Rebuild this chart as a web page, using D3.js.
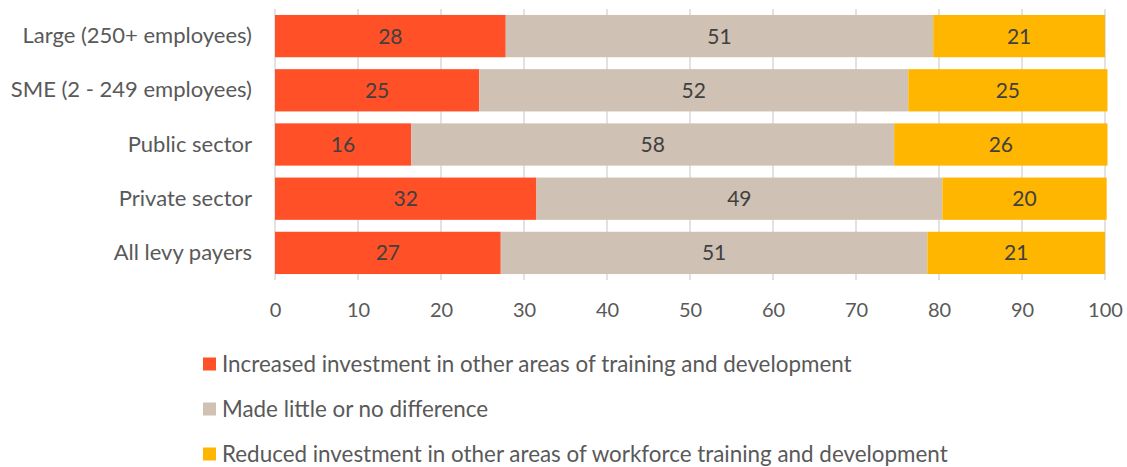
<!DOCTYPE html>
<html>
<head>
<meta charset="utf-8">
<script src="https://cdn.jsdelivr.net/npm/d3@7"></script>
<style>
  body { margin: 0; background: #fff; }
  text { font-family: Lato, "Noto Sans", sans-serif; }
</style>
</head>
<body>
<script>
// categories, top to bottom
var categories = ["Large (250+ employees)", "SME (2 - 249 employees)", "Public sector", "Private sector", "All levy payers"];

// bar lengths (unrounded shares)
var increased = [27.8, 24.6, 16.4, 31.5, 27.2];
var noDifference = [51.5, 51.7, 58.2, 48.9, 51.4];
var reduced = [20.7, 24.0, 25.7, 19.8, 21.4];

// printed labels
var increasedLabels = [28, 25, 16, 32, 27];
var noDifferenceLabels = [51, 52, 58, 49, 51];
var reducedLabels = [21, 25, 26, 20, 21];

var seriesNames = [
  "Increased investment in other areas of training and development",
  "Made little or no difference",
  "Reduced investment in other areas of workforce training and development"
];
var xTicks = [0, 10, 20, 30, 40, 50, 60, 70, 80, 90, 100];

var colors = ["#FF5028", "#CFC1B4", "#FFB600"];
var keys = ["increased", "noDifference", "reduced"];

var w = 1127, h = 467;

var rows = categories.map(function (c, i) {
  return {
    name: c,
    increased: increased[i], noDifference: noDifference[i], reduced: reduced[i],
    labels: [increasedLabels[i], noDifferenceLabels[i], reducedLabels[i]]
  };
});

var svg = d3.select("body").append("svg")
  .attr("width", w)
  .attr("height", h);

var x = d3.scaleLinear().domain([0, 100]).range([275, 1105]);
var y = d3.scaleBand().domain(categories).range([9, 280])
  .paddingInner(0.22).paddingOuter(0.11);

// gridlines
svg.append("g").selectAll("line")
  .data(xTicks)
  .enter().append("line")
  .attr("x1", function (d) { return x(d); })
  .attr("x2", function (d) { return x(d); })
  .attr("y1", 9)
  .attr("y2", 280)
  .style("stroke", "#D9D9D9")
  .style("stroke-width", 1.5);

// x axis tick labels
var xAxis = d3.axisBottom(x).tickValues(xTicks).tickSize(0).tickPadding(0);
var gx = svg.append("g")
  .attr("transform", "translate(0,303)")
  .call(xAxis);
gx.select(".domain").remove();
gx.selectAll("text")
  .style("font-size", "20px")
  .style("fill", "#595959")
  .style("font-family", "Lato, sans-serif");

// category labels
var yAxis = d3.axisLeft(y).tickSize(0).tickPadding(0);
var gy = svg.append("g")
  .attr("transform", "translate(252,0)")
  .call(yAxis);
gy.select(".domain").remove();
gy.selectAll("text")
  .style("font-size", "22px")
  .style("fill", "#595959")
  .style("font-family", "Lato, sans-serif");

var stacked = d3.stack().keys(keys)(rows);

var layers = svg.append("g").selectAll("g")
  .data(stacked)
  .enter().append("g")
  .style("fill", function (d, i) { return colors[i]; });

layers.selectAll("rect")
  .data(function (d) { return d; })
  .enter().append("rect")
  .attr("x", function (d) { return x(d[0]); })
  .attr("y", function (d) { return y(d.data.name); })
  .attr("width", function (d) { return x(d[1]) - x(d[0]); })
  .attr("height", y.bandwidth());

// value labels
stacked.forEach(function (layer, k) {
  svg.append("g").selectAll("text")
    .data(layer)
    .enter().append("text")
    .attr("x", function (d) { return (x(d[0]) + x(d[1])) / 2; })
    .attr("y", function (d) { return y(d.data.name) + y.bandwidth() / 2; })
    .attr("dy", "0.36em")
    .attr("text-anchor", "middle")
    .style("font-size", "21px")
    .style("fill", "#404040")
    .text(function (d) { return d.data.labels[k]; });
});

// legend
var legend = svg.append("g").selectAll("g")
  .data(seriesNames)
  .enter().append("g")
  .attr("transform", function (d, i) { return "translate(203," + (364 + i * 45) + ")"; });

legend.append("rect")
  .attr("x", 0)
  .attr("y", -6.5)
  .attr("width", 13)
  .attr("height", 13)
  .style("fill", function (d, i) { return colors[i]; });

legend.append("text")
  .attr("x", 19)
  .attr("y", 0)
  .attr("dy", "0.36em")
  .style("font-size", "22.4px")
  .style("fill", "#595959")
  .text(function (d) { return d; });
</script>
</body>
</html>
